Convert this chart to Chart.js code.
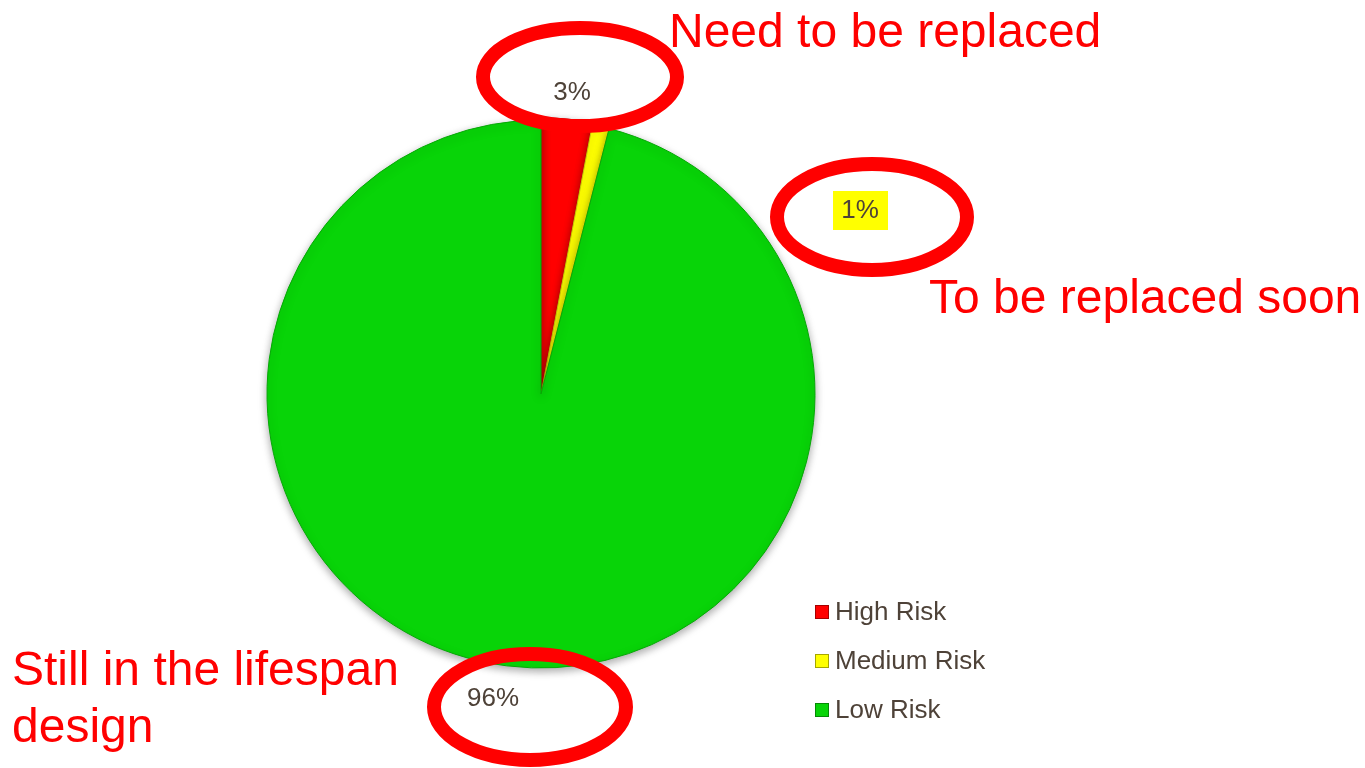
<!DOCTYPE html>
<html>
<head>
<meta charset="utf-8">
<title>Risk pie</title>
<script src="https://cdn.jsdelivr.net/npm/chart.js@4.4.0/dist/chart.umd.min.js"></script>
<style>
    body { margin: 0; background: #fff; width: 1365px; height: 768px; overflow: hidden; position: relative; font-family: "Liberation Sans", Arial, sans-serif; }
    #chart { position: absolute; left: 0; top: 0; }
    .note { position: absolute; color: #ff0000; font-size: 48px; line-height: 57px; white-space: nowrap; }
    #legend { position: absolute; left: 815px; top: 596px; }
    .row { height: 49px; display: flex; align-items: flex-start; color: #4e4238; font-size: 26px; line-height: 30px; }
    .box { width: 14px; height: 14px; margin: 9px 6px 0 0; box-sizing: border-box; border: 1px solid rgba(0,0,0,0.35); }
</style>
</head>
<body>
<canvas id="chart" width="1365" height="768"></canvas>

<div class="note" style="left:669px; top:2px;">Need to be replaced</div>
<div class="note" style="left:929px; top:268px;">To be replaced soon</div>
<div class="note" style="left:12px; top:640px;">Still in the lifespan<br>design</div>

<div id="legend"></div>

<script>
const categories = ['High Risk', 'Medium Risk', 'Low Risk'];
const riskShare = [3, 1, 96];
const valueLabels = ['3%', '1%', '96%'];
const sliceColors = ['#ff0000', '#ffff00', '#08d408'];

// legend built from the same arrays
const legend = document.getElementById('legend');
categories.forEach((name, i) => {
    const row = document.createElement('div');
    row.className = 'row';
    const box = document.createElement('span');
    box.className = 'box';
    box.style.background = sliceColors[i];
    row.appendChild(box);
    row.appendChild(document.createTextNode(name));
    legend.appendChild(row);
});

// red ellipses and label spots placed by hand, like in the slide
const ellipses = [
    { x: 580, y: 77, rx: 97, ry: 49 },
    { x: 872, y: 217, rx: 95, ry: 53 },
    { x: 530, y: 707, rx: 96, ry: 53 }
];
const labelSpots = [[572, 92], [860, 210], [493, 698]];

const labelPlugin = {
    id: 'labelPlugin',
    beforeDatasetsDraw(chart) {
        const ctx = chart.ctx;
        ctx.save();
        ctx.shadowColor = 'rgba(0,0,0,0.35)';
        ctx.shadowBlur = 8;
        ctx.shadowOffsetY = 3;
    },
    afterDatasetsDraw(chart) {
        const ctx = chart.ctx;
        ctx.restore();
        ctx.save();
        ctx.font = '26px "Liberation Sans", Arial, sans-serif';
        ctx.textAlign = 'center';
        ctx.textBaseline = 'middle';
        valueLabels.forEach((txt, i) => {
            const [x, y] = labelSpots[i];
            if (i === 1) {
                ctx.fillStyle = '#ffff00';
                ctx.fillRect(x - 27, y - 19, 55, 39);
            }
            ctx.fillStyle = '#4e4238';
            ctx.fillText(txt, x, y + 1);
        });
        ctx.strokeStyle = '#ff0000';
        ctx.lineWidth = 14;
        ellipses.forEach(e => {
            ctx.beginPath();
            ctx.ellipse(e.x, e.y, e.rx, e.ry, 0, 0, Math.PI * 2);
            ctx.stroke();
        });
        ctx.restore();
    }
};

new Chart(document.getElementById('chart'), {
    type: 'pie',
    data: {
        labels: categories,
        datasets: [{
            data: riskShare,
            backgroundColor: sliceColors,
            borderColor: ['#c80000', '#c8c800', '#06a806'],
            borderWidth: 1,
            offset: [5, 0, 0]
        }]
    },
    options: {
        responsive: false,
        animation: false,
        devicePixelRatio: 1,
        layout: { padding: { left: 264, right: 547, top: 117, bottom: 97 } },
        plugins: {
            legend: { display: false },
            tooltip: { enabled: false }
        }
    },
    plugins: [labelPlugin]
});
</script>
</body>
</html>
